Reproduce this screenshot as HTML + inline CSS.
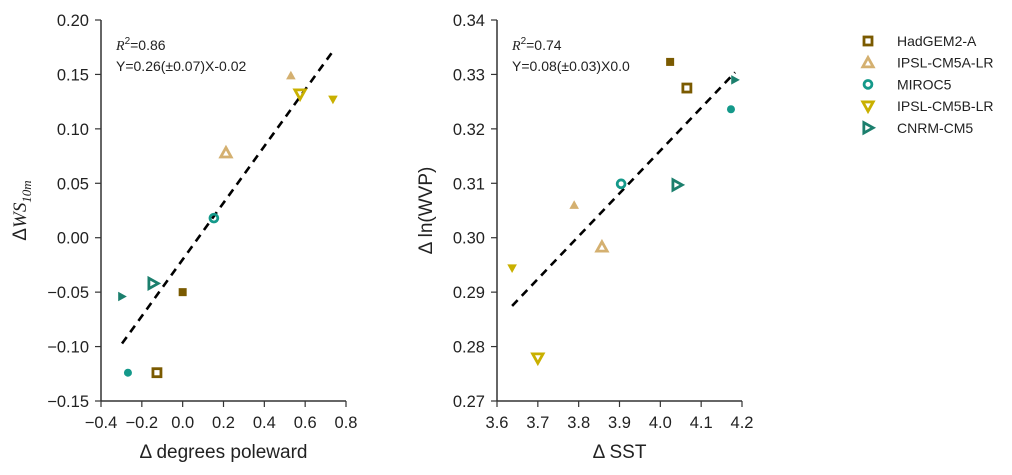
<!DOCTYPE html>
<html><head><meta charset="utf-8"><style>
body{margin:0;background:#fff}
svg{font-family:"Liberation Sans",sans-serif;display:block}
</style></head><body>
<svg id="c" width="1012" height="475"></svg>
<script>
const models=["HadGEM2-A","IPSL-CM5A-LR","MIROC5","IPSL-CM5B-LR","CNRM-CM5"];
const colors=["#7a5a00","#d4b070","#14998a","#c9b000","#1b7f6d"];
const shapes=["square","up","circle","down","right"];
// left panel
const leftFilledX=[0.0,0.53,-0.268,0.736,-0.297];
const leftFilledY=[-0.05,0.149,-0.124,0.127,-0.054];
const leftOpenX=[-0.126,0.212,0.153,0.575,-0.145];
const leftOpenY=[-0.124,0.078,0.018,0.132,-0.042];
const leftFit=[0.26,-0.02];
const leftXTicks=[-0.4,-0.2,0.0,0.2,0.4,0.6,0.8];
const leftYTicks=[-0.15,-0.10,-0.05,0.00,0.05,0.10,0.15,0.20];
// right panel
const rightFilledX=[4.024,3.789,4.173,3.637,4.183];
const rightFilledY=[0.3323,0.306,0.3236,0.2944,0.329];
const rightOpenX=[4.065,3.857,3.904,3.70,4.041];
const rightOpenY=[0.3275,0.2983,0.3099,0.2779,0.3097];
const rightFit=[0.0786,0.0016];
const rightXTicks=[3.6,3.7,3.8,3.9,4.0,4.1,4.2];
const rightYTicks=[0.27,0.28,0.29,0.30,0.31,0.32,0.33,0.34];

const NS="http://www.w3.org/2000/svg";
const svg=document.getElementById('c');
function mk(t,a,p){const e=document.createElementNS(NS,t);for(const k in a)e.setAttribute(k,a[k]);(p||svg).appendChild(e);return e;}
function fmtMinus(s){return s.replace('-','\u2212');}
function marker(g,shape,cx,cy,col,open){
  const s=4; const sw=open?2.8:0;
  const st={fill:open?'none':col,stroke:open?col:'none','stroke-width':sw};
  let e;
  if(shape==='square')e=mk('rect',Object.assign({x:cx-s,y:cy-s,width:2*s,height:2*s},st),g);
  else if(shape==='circle')e=mk('circle',Object.assign({cx:cx,cy:cy,r:open?3.9:4},st),g);
  else{let pts;const r=open?5.2:4.8;
    if(shape==='up')pts=[[cx,cy-r],[cx+r,cy+r*0.8],[cx-r,cy+r*0.8]];
    if(shape==='down')pts=[[cx,cy+r],[cx+r,cy-r*0.8],[cx-r,cy-r*0.8]];
    if(shape==='right')pts=[[cx+r,cy],[cx-r*0.8,cy-r],[cx-r*0.8,cy+r]];
    e=mk('polygon',Object.assign({points:pts.map(p=>p.join(',')).join(' '),'stroke-linejoin':'miter'},st),g);}
  return e;
}
function panel(o){
  const g=mk('g',{});
  
  
  const X=v=>o.x0+(v-o.xmin)/(o.xmax-o.xmin)*(o.x1-o.x0);
  const Y=v=>o.y1-(v-o.ymin)/(o.ymax-o.ymin)*(o.y1-o.y0);
  mk('line',{x1:o.x0,y1:o.y0,x2:o.x0,y2:o.y1,stroke:'#333','stroke-width':1.5},g);
  mk('line',{x1:o.x0,y1:o.y1,x2:o.x1,y2:o.y1,stroke:'#333','stroke-width':1.5},g);
  o.xt.forEach(v=>{const x=X(v);mk('line',{x1:x,y1:o.y1,x2:x,y2:o.y1+6,stroke:'#333','stroke-width':1.2},g);
    const t=mk('text',{x:x,y:o.y1+27,'text-anchor':'middle','font-size':16.5,fill:'#222'},g);t.textContent=fmtMinus(v.toFixed(1));
    });
  o.yt.forEach(v=>{const y=Y(v);mk('line',{x1:o.x0-6,y1:y,x2:o.x0,y2:y,stroke:'#333','stroke-width':1.2},g);
    const t=mk('text',{x:o.x0-12,y:y+6,'text-anchor':'end','font-size':16.5,fill:'#222'},g);t.textContent=fmtMinus(v.toFixed(2));
    });
  const all=o.fx.concat(o.ox);const mn=Math.min(...all),mx=Math.max(...all);
  const fl=mk('line',{x1:X(mn),y1:Y(o.fit[0]*mn+o.fit[1]),x2:X(mx),y2:Y(o.fit[0]*mx+o.fit[1]),stroke:'#000','stroke-width':2.6,'stroke-dasharray':'8,6'},g);
  
  for(let i=0;i<models.length;i++){
    const a=marker(g,shapes[i],X(o.fx[i]),Y(o.fy[i]),colors[i],false);
    
    const b=marker(g,shapes[i],X(o.ox[i]),Y(o.oy[i]),colors[i],true);
    
  }
  const r=mk('text',{x:o.x0+15,y:50,'font-size':14,fill:'#222'},g);
  r.innerHTML='<tspan font-family="Liberation Serif,serif" font-style="italic">R</tspan><tspan font-size="10" dy="-6">2</tspan><tspan dy="6">='+o.r2+'</tspan>';
  
  const q=mk('text',{x:o.x0+15,y:71,'font-size':14,fill:'#222'},g);q.textContent=o.eq;
  
  const xl=mk('text',{x:(o.x0+o.x1)/2,y:458,'text-anchor':'middle','font-size':19,fill:'#222'},g);xl.textContent=o.xlab;
  
  const yl=mk('text',{x:0,y:0,'text-anchor':'middle','font-size':19,fill:'#222',transform:`translate(${o.ylx},${(o.y0+o.y1)/2}) rotate(-90)`},g);
  yl.innerHTML=o.ylab;
  
}
panel({name:'left-panel',x0:101,x1:346,y0:20,y1:401,xmin:-0.4,xmax:0.8,ymin:-0.15,ymax:0.20,xt:leftXTicks,yt:leftYTicks,
  fx:leftFilledX,fy:leftFilledY,ox:leftOpenX,oy:leftOpenY,fit:leftFit,r2:'0.86',eq:'Y=0.26(\u00b10.07)X-0.02',
  xlab:'\u0394 degrees poleward',ylx:26,ylab:'<tspan>\u0394</tspan><tspan font-family="Liberation Serif,serif" font-style="italic">WS</tspan><tspan font-family="Liberation Serif,serif" font-style="italic" font-size="13" dy="5">10m</tspan>'});
panel({name:'right-panel',x0:497,x1:742,y0:20,y1:401,xmin:3.6,xmax:4.2,ymin:0.27,ymax:0.34,xt:rightXTicks,yt:rightYTicks,
  fx:rightFilledX,fy:rightFilledY,ox:rightOpenX,oy:rightOpenY,fit:rightFit,r2:'0.74',eq:'Y=0.08(\u00b10.03)X0.0',
  xlab:'\u0394 SST',ylx:432,ylab:'\u0394 ln(WVP)'});
const lg=mk('g',{});


models.forEach((m,i)=>{const y=41+i*21.7;
  const e=marker(lg,shapes[i],868,y,colors[i],true);
  
  const t=mk('text',{x:897,y:y+5,'font-size':14,fill:'#222'},lg);t.textContent=m;
  
});
</script>
</body></html>
